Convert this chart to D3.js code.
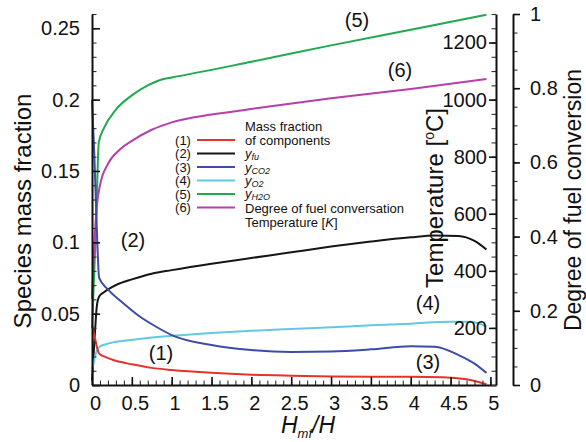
<!DOCTYPE html>
<html><head><meta charset="utf-8">
<script src="https://cdn.jsdelivr.net/npm/d3@7/dist/d3.min.js"></script>
<style>
body{margin:0;background:#fff}
svg{display:block;font-family:"Liberation Sans",Arial,Helvetica,sans-serif}
.axis text{font-size:20px;fill:#111;font-family:"Liberation Sans",Arial,Helvetica,sans-serif}
.axis .domain{stroke:#111;stroke-width:2}
.axis line{stroke:#111;stroke-width:1.6}
.minor line{stroke:#333;stroke-width:1.1}
</style>
</head><body><svg id="c" width="586" height="442"></svg>
<script>
// ---------- data ----------
const xTickValues = [0,0.5,1,1.5,2,2.5,3,3.5,4,4.5,5];
const xTickLabels = ["0","0.5","1","1.5","2","2.5","3","3.5","4","4.5","5"];
const leftTickValues = [0,0.05,0.1,0.15,0.2,0.25];
const leftTickLabels = ["0","0.05","0.1","0.15","0.2","0.25"];
const tempTickValues = [200,400,600,800,1000,1200];
const tempTickLabels = ["200","400","600","800","1000","1200"];
const degTickValues = [0,0.2,0.4,0.6,0.8,1];
const degTickLabels = ["0","0.2","0.4","0.6","0.8","1"];

// (1) red
const redX = [0,0.03,0.06,0.09,0.15,0.3,0.5,0.75,1,1.5,2,2.5,3,3.5,4,4.4,4.7,4.95];
const redY = [0.042,0.035,0.027,0.022,0.02,0.017,0.0145,0.012,0.0105,0.0085,0.0072,0.0065,0.006,0.0058,0.0057,0.0055,0.004,0.0005];
// (2) black
const blackX = [0,0.03,0.06,0.09,0.15,0.3,0.5,0.75,1,1.5,2,2.5,3,3.5,4,4.3,4.6,4.8,4.95];
const blackY = [0.003,0.03,0.055,0.062,0.065,0.07,0.074,0.078,0.0805,0.085,0.089,0.093,0.097,0.1005,0.1035,0.1048,0.1045,0.101,0.095];
// (3) blue
const blueX = [0,0.03,0.06,0.09,0.2,0.4,0.6,0.8,1,1.5,2,2.5,3,3.5,4,4.3,4.6,4.8,4.95];
const blueY = [0.2,0.16,0.11,0.075,0.067,0.057,0.048,0.041,0.035,0.028,0.0245,0.0232,0.0235,0.025,0.0272,0.0268,0.021,0.015,0.0085];
// (4) cyan
const cyanX = [0,0.03,0.06,0.1,0.2,0.4,0.7,1,1.5,2,2.5,3,3.5,4,4.5,4.75,4.95];
const cyanY = [0.01,0.018,0.024,0.027,0.029,0.031,0.033,0.0345,0.0365,0.038,0.0393,0.0405,0.0418,0.043,0.0443,0.0443,0.041];
// (5) green
const greenX = [0,0.05,0.085,0.15,0.3,0.5,0.7,0.9,1,2,3,4,4.95];
const greenY = [0.04,0.11,0.17,0.18,0.193,0.203,0.21,0.2145,0.2155,0.2265,0.238,0.249,0.2595];
// (6) magenta: degree of fuel conversion (right axis, 0..1)
const magX = [0,0.03,0.06,0.1,0.2,0.35,0.5,0.75,1,1.5,2,3,4,4.95];
const magY = [0.231,0.385,0.481,0.538,0.596,0.635,0.658,0.688,0.708,0.729,0.744,0.773,0.798,0.825];

const seriesColors = ["#e3342b","#151515","#3d4ca6","#62c9e2","#20a94f","#b63fa9"];

// ---------- scales ----------
const svg = d3.select("#c");
const x = d3.scaleLinear().domain([0,5.07]).range([92,496]);
const yL = d3.scaleLinear().domain([0,0.26]).range([385,14]);
const yT = d3.scaleLinear().domain([0,1300]).range([385,14]);
const yD = d3.scaleLinear().domain([0,1]).range([385,14]);

// ---------- curves ----------
function drawSeries(xs, ys, yScale, color){
  const pts = xs.map((d,i)=>[d, ys[i]]);
  svg.append("path").datum(pts)
    .attr("fill","none").attr("stroke",color).attr("stroke-width",2)
    .attr("stroke-linejoin","round")
    .attr("d", d3.line().x(d=>x(d[0])).y(d=>yScale(d[1])).curve(d3.curveMonotoneX));
}
drawSeries(greenX, greenY, yL, seriesColors[4]);
drawSeries(magX, magY, yD, seriesColors[5]);
drawSeries(blackX, blackY, yL, seriesColors[1]);
drawSeries(cyanX, cyanY, yL, seriesColors[3]);
drawSeries(blueX, blueY, yL, seriesColors[2]);
drawSeries(redX, redY, yL, seriesColors[0]);

// ---------- axes ----------
function minorAxis(axis, tr){
  const g = svg.append("g").attr("class","axis minor").attr("transform",tr).call(axis);
  g.select(".domain").remove();
  g.selectAll("text").remove();
}
// left
minorAxis(d3.axisLeft(yL).tickValues(d3.range(0,27).map(i=>i/100)).tickSize(-4.5).tickSizeOuter(0), "translate(92,0)");
svg.append("g").attr("class","axis").attr("transform","translate(92,0)")
  .call(d3.axisLeft(yL).tickValues(leftTickValues).tickSize(-8).tickSizeOuter(0).tickPadding(12)
    .tickFormat((d,i)=>leftTickLabels[i]));
// bottom
minorAxis(d3.axisBottom(x).tickValues(d3.range(0,51).map(i=>i/10)).tickSize(-4.5).tickSizeOuter(0), "translate(0,385)");
const gx = svg.append("g").attr("class","axis").attr("transform","translate(0,385)")
  .call(d3.axisBottom(x).tickValues(xTickValues).tickSize(-8).tickSizeOuter(0).tickPadding(11)
    .tickFormat((d,i)=>xTickLabels[i]));
gx.selectAll("text").attr("dx","3");
// temperature (right, labels inside)
minorAxis(d3.axisLeft(yT).tickValues(d3.range(0,27).map(i=>i*50)).tickSize(4.5).tickSizeOuter(0), "translate(496,0)");
svg.append("g").attr("class","axis").attr("transform","translate(496,0)")
  .call(d3.axisLeft(yT).tickValues(tempTickValues).tickSize(7).tickSizeOuter(0).tickPadding(2)
    .tickFormat((d,i)=>tempTickLabels[i]));
// degree of fuel conversion (far right)
minorAxis(d3.axisRight(yD).tickValues(d3.range(0,21).map(i=>i/20)).tickSize(4.5).tickSizeOuter(0), "translate(513,0)");
svg.append("g").attr("class","axis").attr("transform","translate(513,0)")
  .call(d3.axisRight(yD).tickValues(degTickValues).tickSize(7).tickSizeOuter(0).tickPadding(10)
    .tickFormat((d,i)=>degTickLabels[i]));

// ---------- axis titles ----------
svg.append("text").attr("transform","translate(31,211) rotate(-90)")
  .attr("text-anchor","middle").attr("font-size",24).attr("fill","#111").text("Species mass fraction");
svg.append("text").attr("transform","translate(581,200) rotate(-90)")
  .attr("text-anchor","middle").attr("font-size",23).attr("fill","#111").text("Degree of fuel conversion");
const tt = svg.append("text").attr("transform","translate(443,198) rotate(-90)")
  .attr("text-anchor","middle").attr("font-size",24).attr("fill","#111");
tt.append("tspan").text("Temperature [");
tt.append("tspan").attr("font-size",14).attr("dy",-9).text("o");
tt.append("tspan").attr("dy",9).text("C]");
const xt = svg.append("text").attr("x",308).attr("y",433).attr("text-anchor","middle")
  .attr("font-size",23).attr("font-style","italic").attr("fill","#111");
xt.append("tspan").text("H");
xt.append("tspan").attr("font-size",13).attr("dy",5).text("mf");
xt.append("tspan").attr("dy",-5).text("/H");

// ---------- curve annotations ----------
const annoLabels = ["(1)","(2)","(3)","(4)","(5)","(6)"];
const annoPos = [[161,353],[133,240],[428,362],[428,303],[357,20],[400,70]];
annoLabels.forEach((t,i)=>{
  svg.append("text").attr("x",annoPos[i][0]).attr("y",annoPos[i][1]).attr("dy","0.35em")
    .attr("text-anchor","middle").attr("font-size",20).attr("fill","#111").text(t);
});

// ---------- legend ----------
const legRowsY = [140,153.5,167,180.5,194,207.5];
legRowsY.forEach((yy,i)=>{
  svg.append("text").attr("x",183).attr("y",yy).attr("dy","0.35em").attr("text-anchor","middle")
    .attr("font-size",13).attr("fill","#111").text(annoLabels[i]);
  svg.append("line").attr("x1",197).attr("x2",235).attr("y1",yy).attr("y2",yy)
    .attr("stroke",seriesColors[i]).attr("stroke-width",2);
});
function legText(yy){ return svg.append("text").attr("x",245).attr("y",yy).attr("dy","0.35em").attr("font-size",13).attr("fill","#111"); }
legText(126).text("Mass fraction");
legText(140).text("of components");
function subLabel(yy, sub){
  const t = legText(yy);
  t.append("tspan").attr("font-style","italic").text("y");
  t.append("tspan").attr("font-style","italic").attr("font-size",9).attr("dy",2).text(sub);
}
subLabel(153.5,"fu");
subLabel(167,"CO2");
subLabel(180.5,"O2");
subLabel(193.5,"H2O");
legText(208).text("Degree of fuel conversation");
const tk = legText(222.5);
tk.append("tspan").text("Temperature [");
tk.append("tspan").attr("font-style","italic").text("K");
tk.append("tspan").text("]");
</script>
</body></html>
